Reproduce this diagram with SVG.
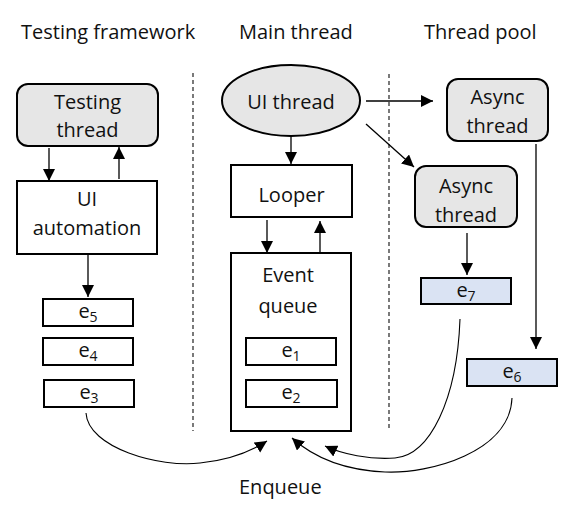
<svg xmlns="http://www.w3.org/2000/svg" width="581" height="513" viewBox="0 0 581 513">
<style>
text{font-family:"Open Sans","Noto Sans","Liberation Sans",sans-serif;font-size:20px;fill:#111;text-anchor:middle}
.hdr{text-anchor:start}
.box{fill:#fff;stroke:#000;stroke-width:2}
.thr{fill:#e6e6e6;stroke:#000;stroke-width:2}
.ev{fill:#fff;stroke:#000;stroke-width:2}
.evb{fill:#dae3f3;stroke:#000;stroke-width:2}
.ln{fill:none;stroke:#000;stroke-width:1.3}
.cv{fill:none;stroke:#000;stroke-width:1.1}
.dash{stroke:#222;stroke-width:1.2;stroke-dasharray:4 3}
.sub{font-size:14px}
</style>
<defs>
<marker id="ah" markerUnits="userSpaceOnUse" markerWidth="14" markerHeight="14" refX="12" refY="6" orient="auto">
<path d="M0,0 L12,6 L0,12 Z" fill="#000"/>
</marker>
</defs>
<g id="headers">
<text class="hdr" x="21" y="39">Testing framework</text>
<text class="hdr" x="239" y="39">Main thread</text>
<text class="hdr" x="424" y="39">Thread pool</text>
</g>
<g id="dividers">
<line class="dash" x1="193" y1="73" x2="193" y2="431"/>
<line class="dash" x1="389" y1="74" x2="389" y2="430"/>
</g>
<g id="testing-thread">
<rect class="thr" x="17" y="84" width="141" height="62" rx="11"/>
<text x="87.5" y="109">Testing</text>
<text x="87.5" y="137">thread</text>
</g>
<g id="ui-automation">
<rect class="box" x="17" y="181" width="140" height="73"/>
<text x="87" y="206">UI</text>
<text x="87" y="235">automation</text>
</g>
<g id="e5">
<rect class="ev" x="43" y="299" width="90" height="27"/>
<text x="88" y="318">e<tspan class="sub" dy="4">5</tspan></text>
</g>
<g id="e4">
<rect class="ev" x="43" y="338" width="90" height="27"/>
<text x="88" y="357">e<tspan class="sub" dy="4">4</tspan></text>
</g>
<g id="e3">
<rect class="ev" x="44" y="380" width="90" height="27"/>
<text x="89" y="399">e<tspan class="sub" dy="4">3</tspan></text>
</g>
<g id="ui-thread">
<ellipse class="thr" cx="291" cy="100.5" rx="69" ry="35.5"/>
<text x="291" y="109">UI thread</text>
</g>
<g id="looper">
<rect class="box" x="231" y="165" width="121" height="52"/>
<text x="291.5" y="202">Looper</text>
</g>
<g id="event-queue">
<rect class="box" x="231" y="253" width="120" height="178"/>
<text x="288" y="282">Event</text>
<text x="288" y="313">queue</text>
</g>
<g id="e1">
<rect class="ev" x="246" y="338" width="90" height="27"/>
<text x="291" y="357">e<tspan class="sub" dy="4">1</tspan></text>
</g>
<g id="e2">
<rect class="ev" x="246" y="380" width="91" height="27"/>
<text x="291" y="399">e<tspan class="sub" dy="4">2</tspan></text>
</g>
<g id="async-thread-1">
<rect class="thr" x="447" y="79" width="101" height="62" rx="11"/>
<text x="497.5" y="104">Async</text>
<text x="497.5" y="133">thread</text>
</g>
<g id="async-thread-2">
<rect class="thr" x="415" y="166" width="102" height="61" rx="11"/>
<text x="466" y="193">Async</text>
<text x="466" y="222">thread</text>
</g>
<g id="e7">
<rect class="evb" x="421" y="278" width="90" height="26"/>
<text x="466" y="297">e<tspan class="sub" dy="4">7</tspan></text>
</g>
<g id="e6">
<rect class="evb" x="467" y="359" width="90" height="27"/>
<text x="512" y="378">e<tspan class="sub" dy="4">6</tspan></text>
</g>
<g id="connectors">
<line class="ln" x1="49" y1="148" x2="49" y2="181" marker-end="url(#ah)"/>
<line class="ln" x1="119" y1="179" x2="119" y2="147" marker-end="url(#ah)"/>
<line class="ln" x1="88" y1="254" x2="88" y2="297" marker-end="url(#ah)"/>
<line class="ln" x1="291" y1="136" x2="291" y2="164" marker-end="url(#ah)"/>
<line class="ln" x1="267" y1="220" x2="267" y2="253" marker-end="url(#ah)"/>
<line class="ln" x1="320" y1="253" x2="320" y2="221" marker-end="url(#ah)"/>
<line class="ln" x1="366" y1="101" x2="433" y2="101" marker-end="url(#ah)"/>
<line class="ln" x1="366" y1="124" x2="414" y2="167" marker-end="url(#ah)"/>
<line class="ln" x1="467" y1="233" x2="467" y2="275" marker-end="url(#ah)"/>
<line class="ln" x1="536" y1="144" x2="536" y2="349" marker-end="url(#ah)"/>
<path class="cv" d="M86,413 C88,448 160,468 200,463 C230,460 250,452 267,441" marker-end="url(#ah)"/>
<path class="cv" d="M460,319 C457,400 430,455 395,458 C370,460 342,454 325,446" marker-end="url(#ah)"/>
<path class="cv" d="M512,398 C510,452 430,474 385,472 C340,470 312,456 292,438" marker-end="url(#ah)"/>
</g>
<g id="label">
<text class="hdr" x="239" y="494">Enqueue</text>
</g>
</svg>
